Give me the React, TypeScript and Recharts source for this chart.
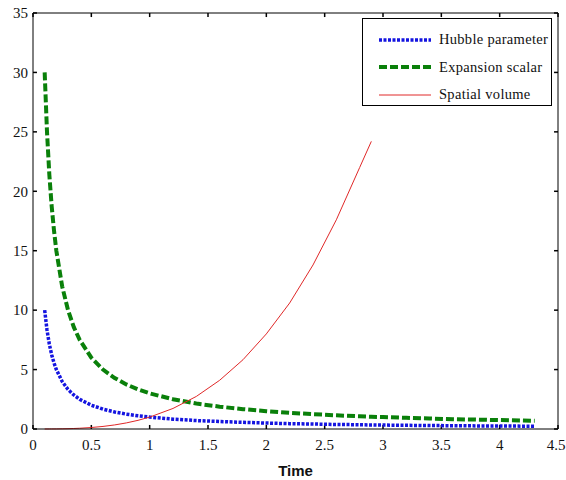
import { LineChart, Line, XAxis, YAxis, Legend, ReferenceLine } from "recharts";

const times = [0.1, 0.12, 0.14, 0.16, 0.18, 0.2, 0.25, 0.3, 0.35, 0.4, 0.5, 0.6, 0.7, 0.8, 0.9, 1.0, 1.2, 1.4, 1.6, 1.8, 2.0, 2.2, 2.4, 2.6, 2.8, 2.9, 3.0, 3.2, 3.4, 3.6, 3.8, 4.0, 4.2, 4.3];
const hubble = [10, 8.33, 7.14, 6.25, 5.56, 5.0, 4.0, 3.33, 2.86, 2.5, 2.0, 1.67, 1.43, 1.25, 1.11, 1.0, 0.83, 0.71, 0.63, 0.56, 0.5, 0.45, 0.42, 0.38, 0.36, 0.34, 0.33, 0.31, 0.29, 0.28, 0.26, 0.25, 0.24, 0.23];
const expansion = [30, 25, 21.4, 18.75, 16.7, 15, 12, 10, 8.57, 7.5, 6, 5, 4.29, 3.75, 3.33, 3, 2.5, 2.14, 1.88, 1.67, 1.5, 1.36, 1.25, 1.15, 1.07, 1.03, 1.0, 0.94, 0.88, 0.83, 0.79, 0.75, 0.71, 0.7];
const volume = [0.001, 0.002, 0.003, 0.004, 0.006, 0.008, 0.016, 0.027, 0.043, 0.064, 0.125, 0.216, 0.343, 0.512, 0.729, 1.0, 1.73, 2.74, 4.1, 5.83, 8.0, 10.6, 13.8, 17.6, 22.0, 24.2];

const xTicks = [0, 0.5, 1, 1.5, 2, 2.5, 3, 3.5, 4, 4.5];
const yTicks = [0, 5, 10, 15, 20, 25, 30, 35];

const data = times.map((t, i) => ({
  t,
  hubble: hubble[i],
  expansion: expansion[i],
  volume: i < volume.length ? volume[i] : null,
}));

const series = [
  { key: "hubble", name: "Hubble parameter", color: "#1414e0", width: 3.5, dash: "3 1.5" },
  { key: "expansion", name: "Expansion scalar", color: "#0a800a", width: 4, dash: "8 3" },
  { key: "volume", name: "Spatial volume", color: "#e02828", width: 1, dash: undefined },
];

const FONT = "'Liberation Serif', 'Times New Roman', serif";

function renderBottomTick(props: any) {
  const { x, y, payload } = props;
  return (
    <text x={x} y={y} dy="0.75em" textAnchor="middle" style={{ fontFamily: FONT, fontSize: 15, fill: "#111" }}>
      {payload.value}
    </text>
  );
}

function renderLeftTick(props: any) {
  const { x, y, payload } = props;
  return (
    <text x={x} y={y} dy="0.35em" textAnchor="end" style={{ fontFamily: FONT, fontSize: 15, fill: "#111" }}>
      {payload.value}
    </text>
  );
}

function LegendBox() {
  return (
    <div
      style={{
        width: 190,
        height: 88,
        border: "1px solid #000",
        background: "#fff",
        fontFamily: FONT,
        fontSize: 14.5,
        color: "#111",
        boxSizing: "border-box",
        paddingTop: 7,
      }}
    >
      {series.map((s) => (
        <div key={s.key} style={{ display: "flex", alignItems: "center", height: 27.5 }}>
          <svg width={76} height={10}>
            <line
              x1={16}
              x2={68}
              y1={5}
              y2={5}
              stroke={s.color}
              strokeWidth={s.width}
              strokeDasharray={s.dash}
            />
          </svg>
          <span style={{ letterSpacing: 0.3 }}>{s.name}</span>
        </div>
      ))}
    </div>
  );
}

export default function App() {
  return (
    <div style={{ position: "absolute", left: 0, top: 0, background: "#fff" }}>
      <LineChart width={566} height={480} data={data} margin={{ top: 13, right: 8, bottom: 0, left: 0 }}>
        <XAxis
          dataKey="t"
          type="number"
          domain={[0, 4.5]}
          ticks={xTicks}
          height={51}
          tickLine={false}
          tickSize={0}
          tickMargin={10}
          tick={renderBottomTick}
          axisLine={{ stroke: "#000" }}
          label={{ value: "Time", position: "insideBottom", offset: 4, style: { fontFamily: "'Liberation Sans', Arial, sans-serif", fontWeight: "bold", fontSize: 15, fill: "#111" } }}
        />
        <YAxis
          type="number"
          domain={[0, 35]}
          ticks={yTicks}
          width={33}
          tickLine={false}
          tickSize={0}
          tickMargin={5}
          tick={renderLeftTick}
          axisLine={{ stroke: "#000" }}
        />
        <ReferenceLine y={35} stroke="#000" />
        <ReferenceLine x={4.5} stroke="#000" />
        {xTicks.map((t) => (
          <ReferenceLine key={"tt" + t} segment={[{ x: t, y: 35 }, { x: t, y: 34.66 }]} stroke="#000" strokeWidth={1.5} />
        ))}
        {xTicks.map((t) => (
          <ReferenceLine key={"tb" + t} segment={[{ x: t, y: 0 }, { x: t, y: 0.34 }]} stroke="#000" strokeWidth={1.5} />
        ))}
        {yTicks.map((v) => (
          <ReferenceLine key={"tr" + v} segment={[{ x: 4.5, y: v }, { x: 4.466, y: v }]} stroke="#000" strokeWidth={1.5} />
        ))}
        {yTicks.map((v) => (
          <ReferenceLine key={"tl" + v} segment={[{ x: 0, y: v }, { x: 0.034, y: v }]} stroke="#000" strokeWidth={1.5} />
        ))}
        <Legend
          layout="horizontal"
          verticalAlign="middle"
          align="center"
          content={() => <LegendBox />}
          wrapperStyle={{ left: 362, top: 18, width: 190, height: 88 }}
        />
        {series.map((s) => (
          <Line
            key={s.key}
            dataKey={s.key}
            name={s.name}
            type="linear"
            stroke={s.color}
            strokeWidth={s.width}
            strokeDasharray={s.dash}
            dot={false}
            activeDot={false}
            isAnimationActive={false}
          />
        ))}
      </LineChart>
    </div>
  );
}
